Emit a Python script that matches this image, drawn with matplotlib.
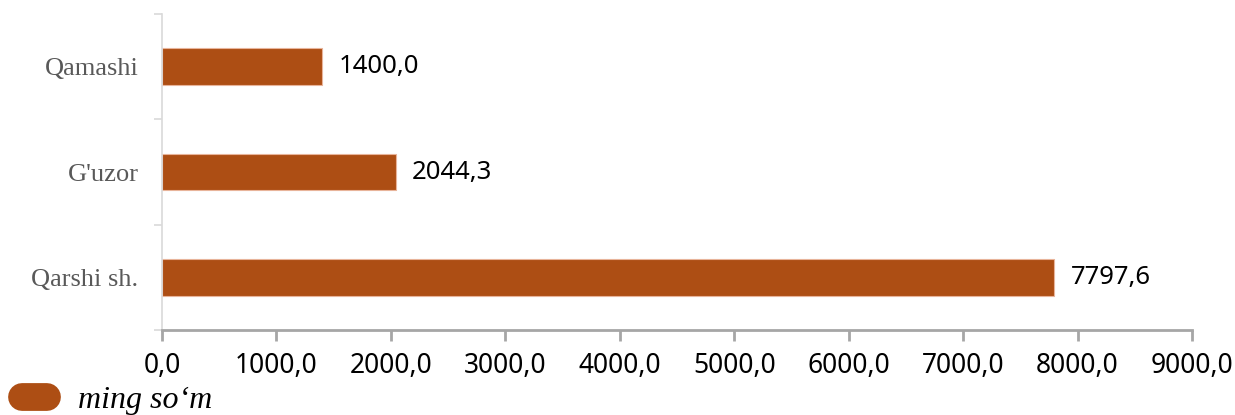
import matplotlib.pyplot as plt
from matplotlib.lines import Line2D
from matplotlib.ticker import FixedLocator

# data (top to bottom as shown)
categories = ['Qamashi', "G'uzor", 'Qarshi sh.']
values = [1400.0, 2044.3, 7797.6]
xticks = [0, 1000, 2000, 3000, 4000, 5000, 6000, 7000, 8000, 9000]
legend_label = 'ming so\u2018m'

bar_color = '#AD4E14'
num_font = 'Noto Sans'

fig = plt.figure(figsize=(12.35, 4.15), dpi=100)
ax = fig.add_axes([162 / 1235, 85 / 415, 1030 / 1235, 316 / 415])

ypos = list(range(len(categories)))[::-1]
ax.barh(ypos, values, height=0.35, color=bar_color, edgecolor='#E8B49A', linewidth=0.8)

for y, v in zip(ypos, values):
    ax.text(v + 140, y, '{:.1f}'.format(v).replace('.', ','), va='center', ha='left',
            fontsize=18.5, color='black', family=num_font)

ax.set_xlim(0, 9000)
ax.set_ylim(-0.5, 2.5)
ax.set_xticks(xticks)
ax.set_xticklabels(['{:.1f}'.format(t).replace('.', ',') for t in xticks],
                   fontsize=19, family=num_font)
ax.set_yticks(ypos)
ax.set_yticklabels(categories, fontsize=19, family='Liberation Serif', color='#595959')
ax.yaxis.set_minor_locator(FixedLocator([-0.5, 0.5, 1.5, 2.5]))

ax.tick_params(axis='y', which='major', length=0, pad=17)
ax.tick_params(axis='y', which='minor', length=6, width=1.2, color='#D9D9D9')
ax.tick_params(axis='x', which='major', length=8, width=2, color='#A6A6A6', pad=7.5)

for s in ['top', 'right']:
    ax.spines[s].set_visible(False)
ax.spines['left'].set_color('#D9D9D9')
ax.spines['left'].set_linewidth(1.2)
ax.spines['bottom'].set_color('#A6A6A6')
ax.spines['bottom'].set_linewidth(2)

handle = Line2D([0], [0], color=bar_color, lw=20, solid_capstyle='round')
fig.legend([handle], [legend_label], loc='lower left', bbox_to_anchor=(0.0, -0.055),
           frameon=False, handlelength=0.78, handletextpad=0.95, borderpad=0.2,
           prop={'family': 'Liberation Serif', 'style': 'italic', 'size': 23})

fig.savefig('out.png', dpi=100)
